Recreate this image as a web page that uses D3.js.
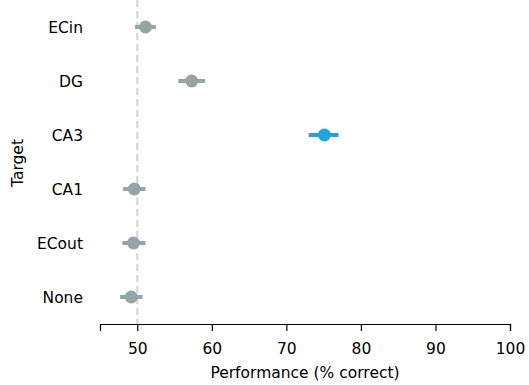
<!DOCTYPE html>
<html><head><meta charset="utf-8">
<script src="https://cdn.jsdelivr.net/npm/d3@7"></script>
<style>body{margin:0;background:#fff}svg{display:block}text{font-family:"DejaVu Sans",sans-serif}</style>
</head><body><svg id="c" width="529" height="385"></svg>
<script>
const targets = ["ECin","DG","CA3","CA1","ECout","None"];
const means = [51.1, 57.3, 75.1, 49.6, 49.5, 49.2];
const lows  = [49.7, 55.5, 73.0, 48.1, 48.0, 47.7];
const highs = [52.5, 59.1, 77.0, 51.1, 51.1, 50.7];
const highlight = ["CA3"];
const xTicks = [50,60,70,80,90,100];
const chance = 50;
const fs = 15.5;

const svg = d3.select("#c");
const x = d3.scaleLinear().domain([45,100]).range([100,510]);
const y = d3.scalePoint().domain(targets).range([27,297]);
const gray = "#95a5a6", blue = "#22a1e4";
const axisY = 324;

svg.append("line").attr("x1",x(chance)).attr("x2",x(chance)).attr("y1",0).attr("y2",axisY)
  .attr("stroke","#d3d3d3").attr("stroke-width",2).attr("stroke-dasharray","7,4");

const gx = svg.append("g").attr("transform",`translate(0,${axisY})`)
  .call(d3.axisBottom(x).tickValues(xTicks).tickSize(7).tickPadding(12));
gx.select(".domain").attr("stroke","#000").attr("stroke-width",1.2);
gx.selectAll(".tick line").attr("stroke","#000").attr("stroke-width",1.2);
gx.selectAll(".tick text").attr("font-size",fs).attr("fill","#000").attr("font-family","DejaVu Sans");

svg.append("text").attr("x",305).attr("y",378).attr("text-anchor","middle").attr("font-size",fs).text("Performance (% correct)");

const gy = svg.append("g").attr("transform","translate(90,1)")
  .call(d3.axisLeft(y).tickSize(0).tickPadding(7));
gy.select(".domain").remove();
gy.selectAll(".tick text").attr("font-size",fs).attr("fill","#000").attr("font-family","DejaVu Sans");

svg.append("text").attr("transform","translate(23,163) rotate(-90)").attr("text-anchor","middle").attr("font-size",fs).text("Target");

const col = d => highlight.includes(d) ? blue : gray;
svg.selectAll(".err").data(targets).join("line")
  .attr("x1",(d,i)=>x(lows[i])).attr("x2",(d,i)=>x(highs[i]))
  .attr("y1",d=>y(d)).attr("y2",d=>y(d))
  .attr("stroke",col).attr("stroke-width",4);
svg.selectAll(".pt").data(targets).join("circle")
  .attr("cx",(d,i)=>x(means[i])).attr("cy",d=>y(d)).attr("r",6.5).attr("fill",col);
</script></body></html>
